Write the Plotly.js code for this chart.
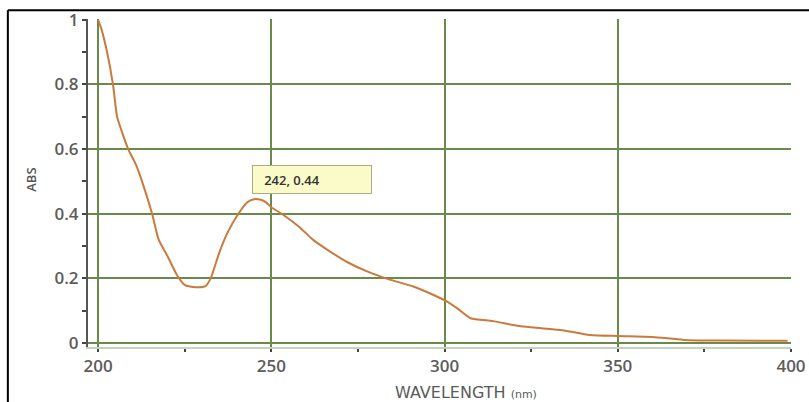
<!DOCTYPE html>
<html>
<head>
<meta charset="utf-8">
<script src="https://cdn.plot.ly/plotly-3.0.1.min.js"></script>
<style>html,body{margin:0;padding:0;background:#fff;}#chart{width:809px;height:402px;}</style>
</head>
<body>
<div id="chart"></div>
<script>
const wavelength = [200, 201, 202.6, 204.3, 205.5, 207, 208.7, 211, 213, 215.6, 217.5, 220, 222.8, 225, 228, 231, 232.5, 235, 237.3, 240.5, 243, 245, 247, 248.5, 250, 253, 258, 262, 266, 272, 278, 284, 291, 297, 301, 304, 307.5, 314, 322, 328, 334, 342, 350, 360, 369, 380, 399];
const absorbance = [1.0, 0.97, 0.9, 0.8, 0.7, 0.65, 0.6, 0.55, 0.49, 0.4, 0.32, 0.27, 0.21, 0.18, 0.173, 0.176, 0.2, 0.28, 0.34, 0.4, 0.435, 0.445, 0.443, 0.435, 0.42, 0.40, 0.36, 0.32, 0.29, 0.25, 0.22, 0.197, 0.175, 0.148, 0.127, 0.105, 0.077, 0.068, 0.052, 0.046, 0.04, 0.025, 0.022, 0.019, 0.01, 0.008, 0.007];
const xTicks = [200, 250, 300, 350, 400];
const yTicks = [0, 0.2, 0.4, 0.6, 0.8, 1];
const yTickLabels = ['0', '0.2', '0.4', '0.6', '0.8', '1'];
const peakLabel = '242, 0.44';

const tickFont = {family: 'Open Sans, sans-serif', size: 17, weight: 600, color: '#5c5c5c'};
const grid = '#6a8a4a';

const data = [{
  x: wavelength, y: absorbance, type: 'scatter', mode: 'lines',
  line: {color: '#c97a3c', width: 2, shape: 'spline', smoothing: 0.6},
  hoverinfo: 'x+y'
}];

const layout = {
  width: 809, height: 402,
  margin: {l: 88, r: 18, t: 19, b: 55},
  paper_bgcolor: '#fff', plot_bgcolor: '#fff',
  showlegend: false,
  xaxis: {
    range: [197.1, 400], tickvals: xTicks, ticktext: xTicks.map(String),
    showgrid: true, gridcolor: grid, gridwidth: 2,
    zeroline: false, showline: true, linecolor: '#c5d3bd', linewidth: 2,
    ticks: 'outside', ticklen: 3, tickwidth: 2, tickcolor: '#444',
    minor: {tickvals: [225, 275, 325, 375], ticks: 'outside', ticklen: 3, tickwidth: 2, tickcolor: '#444', showgrid: false},
    tickfont: tickFont
  },
  yaxis: {
    range: [-0.012, 1.002], tickvals: yTicks, ticktext: yTickLabels,
    showgrid: true, gridcolor: grid, gridwidth: 2,
    zeroline: false, showline: true, linecolor: '#555', linewidth: 2,
    ticks: 'outside', ticklen: 4, tickwidth: 2, tickcolor: '#444',
    minor: {dtick: 0.1, ticks: 'outside', ticklen: 4, tickwidth: 2, tickcolor: '#444', showgrid: false},
    tickfont: tickFont
  },
  shapes: [
    {type: 'line', xref: 'paper', yref: 'paper', x0: -0.114, x1: 1.03, y0: 1.027, y1: 1.027, line: {color: '#000', width: 2}},
    {type: 'line', xref: 'paper', yref: 'paper', x0: -0.114, x1: -0.114, y0: 1.027, y1: -0.2, line: {color: '#000', width: 2}}
  ],
  annotations: [
    {text: '&nbsp;&nbsp;&nbsp;' + peakLabel, x: 261.8, y: 0.506, xref: 'x', yref: 'y', xanchor: 'center', yanchor: 'middle',
     showarrow: false, bgcolor: '#fbfbca', bordercolor: '#a8ae80', borderwidth: 1,
     width: 116, height: 25, align: 'left',
     font: {family: 'Open Sans, sans-serif', size: 13, weight: 600, color: '#333'}},
    {text: 'ABS', xref: 'paper', yref: 'paper', x: -0.081, y: 0.51, xanchor: 'center', yanchor: 'middle',
     textangle: -90, showarrow: false, font: {family: 'Open Sans, sans-serif', size: 13, weight: 600, color: '#555'}},
    {text: 'WAVELENGTH <span style="font-size:11px">(nm)</span>', xref: 'paper', yref: 'paper',
     x: 0.537, y: -0.14, xanchor: 'center', yanchor: 'middle', showarrow: false,
     font: {family: 'DejaVu Sans, sans-serif', size: 16, color: '#5a5a5a'}}
  ]
};

Plotly.newPlot('chart', data, layout, {displayModeBar: false, staticPlot: true});
</script>
</body>
</html>
